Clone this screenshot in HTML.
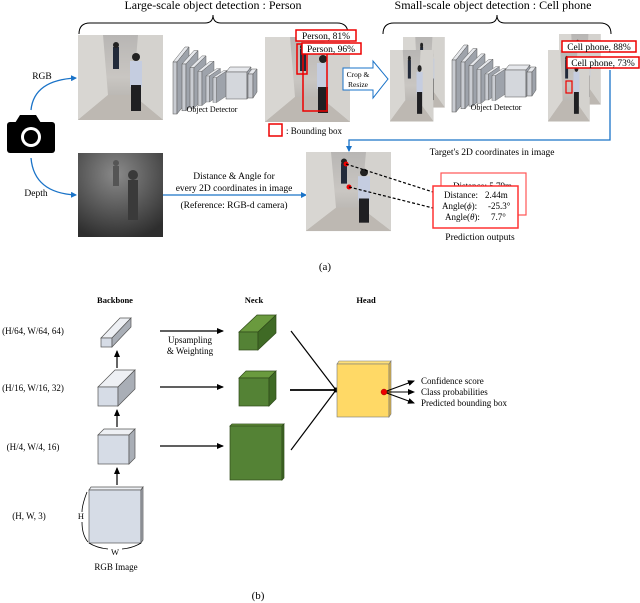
<!DOCTYPE html>
<html><head><meta charset="utf-8"><style>
html,body{margin:0;padding:0;background:#fff;}
svg{display:block;font-family:"Liberation Serif",serif;}
</style></head><body>
<svg width="640" height="603" viewBox="0 0 640 603" xmlns="http://www.w3.org/2000/svg">
<defs>
<marker id="ab" markerWidth="6" markerHeight="6" refX="5" refY="3" orient="auto" markerUnits="userSpaceOnUse"><path d="M0,0 L6,3 L0,6z" fill="#1a73c8"/></marker>
<marker id="ak" markerWidth="7" markerHeight="6" refX="6" refY="3" orient="auto" markerUnits="userSpaceOnUse"><path d="M0,0 L7,3 L0,6z" fill="#000"/></marker>
<linearGradient id="ph" x1="0" y1="0" x2="0" y2="1"><stop offset="0" stop-color="#b8b6b4"/><stop offset="0.5" stop-color="#c9c6c2"/><stop offset="1" stop-color="#a9a6a2"/></linearGradient>
<radialGradient id="dp" cx="0.45" cy="0.25" r="0.8"><stop offset="0" stop-color="#8a8a8a"/><stop offset="1" stop-color="#2e2e2e"/></radialGradient>
<g id="photo">
<rect x="0" y="0" width="85" height="85" fill="url(#ph)"/>
<polygon points="0,0 25,0 30,60 0,85" fill="#d8d6d2"/>
<polygon points="85,0 60,0 55,60 85,85" fill="#d4d2ce"/>
<polygon points="30,60 55,60 85,85 0,85" fill="#bdb8b2"/>
<rect x="52" y="26" width="12" height="26" fill="#c5cde0"/>
<circle cx="58" cy="22" r="4" fill="#222"/>
<rect x="53" y="50" width="10" height="26" fill="#1f1f22"/>
<rect x="35" y="12" width="6" height="22" fill="#222a3a"/>
<circle cx="38" cy="10" r="3" fill="#222"/>
</g>
<g id="det">
<polygon points="0,20 12,5 16,5 4,20" fill="#e6e8ec" stroke="#555" stroke-width=".5"/>
<rect x="0" y="20" width="4" height="52" fill="#c9ccd2" stroke="#555" stroke-width=".5"/>
<polygon points="4,20 16,5 16,57 4,72" fill="#9ea3ab" stroke="#555" stroke-width=".5"/>
</g>
</defs>

<text x="213" y="9" font-size="12" text-anchor="middle">Large-scale object detection : Person</text>
<text x="493" y="9" font-size="12" text-anchor="middle">Small-scale object detection : Cell phone</text>
<path d="M79,34 Q79,23 90,23 L205,23 Q213,23 213,15 Q213,23 221,23 L337,23 Q348,23 348,34" fill="none" stroke="#000" stroke-width="1"/>
<path d="M383,34 Q383,23 394,23 L489,23 Q497,23 497,15 Q497,23 505,23 L600,23 Q611,23 611,34" fill="none" stroke="#000" stroke-width="1"/>

<g transform="translate(78,35)"><use href="#photo"/></g>

<g transform="translate(173,42)">
<use href="#det"/>
<use href="#det" transform="translate(9,4) scale(1,.9)"/>
<use href="#det" transform="translate(17,10) scale(1,.78)"/>
<use href="#det" transform="translate(25,16) scale(1,.66)"/>
<use href="#det" transform="translate(33,24) scale(.9,.5)"/>
<use href="#det" transform="translate(40,26) scale(.9,.48)"/>
<polygon points="53,30 57,25 78,25 74,30" fill="#e6e8ec" stroke="#555" stroke-width=".5"/>
<rect x="53" y="30" width="21" height="27" fill="#d4d7dc" stroke="#555" stroke-width=".5"/>
<polygon points="74,30 78,25 78,52 74,57" fill="#9ea3ab" stroke="#555" stroke-width=".5"/>
<polygon points="75,32 79,27 84,27 80,32" fill="#e6e8ec" stroke="#555" stroke-width=".5"/>
<rect x="75" y="32" width="5" height="24" fill="#c9ccd2" stroke="#555" stroke-width=".5"/>
<polygon points="80,32 84,27 84,50 80,56" fill="#9ea3ab" stroke="#555" stroke-width=".5"/>
<text x="39" y="70" font-size="8" text-anchor="middle">Object Detector</text>
</g>

<g transform="translate(265,37)"><use href="#photo"/></g>
<rect x="303" y="53" width="24" height="58" fill="none" stroke="#e00" stroke-width="1.5"/>
<rect x="297" y="44" width="10" height="30" fill="none" stroke="#e00" stroke-width="1.5"/>
<rect x="296" y="30" width="60" height="11" fill="#fff" stroke="#e00" stroke-width="1.5"/>
<text x="326" y="39" font-size="9.5" text-anchor="middle">Person, 81%</text>
<rect x="302" y="43" width="59" height="11" fill="#fff" stroke="#e00" stroke-width="1.5"/>
<text x="331" y="52" font-size="9.5" text-anchor="middle">Person, 96%</text>
<rect x="269" y="124" width="13" height="12" fill="none" stroke="#e00" stroke-width="1.5"/>
<text x="286" y="134" font-size="9">: Bounding box</text>

<polygon points="343,68 373,68 373,61 388,79 373,98 373,90 343,90" fill="#fff" stroke="#1a73c8" stroke-width="1"/>
<text x="358" y="77" font-size="7.5" text-anchor="middle">Crop &amp;</text>
<text x="358" y="87" font-size="7.5" text-anchor="middle">Resize</text>

<g transform="translate(403,37) scale(.49,.83)"><use href="#photo"/></g>
<g transform="translate(390,50) scale(.51,.84)"><use href="#photo"/></g>

<g transform="translate(452,40)">
<use href="#det"/>
<use href="#det" transform="translate(9,4) scale(1,.9)"/>
<use href="#det" transform="translate(17,10) scale(1,.78)"/>
<use href="#det" transform="translate(25,16) scale(1,.66)"/>
<use href="#det" transform="translate(33,24) scale(.9,.5)"/>
<use href="#det" transform="translate(40,26) scale(.9,.48)"/>
<polygon points="53,30 57,25 78,25 74,30" fill="#e6e8ec" stroke="#555" stroke-width=".5"/>
<rect x="53" y="30" width="21" height="27" fill="#d4d7dc" stroke="#555" stroke-width=".5"/>
<polygon points="74,30 78,25 78,52 74,57" fill="#9ea3ab" stroke="#555" stroke-width=".5"/>
<polygon points="75,32 79,27 84,27 80,32" fill="#e6e8ec" stroke="#555" stroke-width=".5"/>
<rect x="75" y="32" width="5" height="24" fill="#c9ccd2" stroke="#555" stroke-width=".5"/>
<polygon points="80,32 84,27 84,50 80,56" fill="#9ea3ab" stroke="#555" stroke-width=".5"/>
<text x="44" y="70" font-size="8" text-anchor="middle">Object Detector</text>
</g>

<g transform="translate(559,34) scale(.49,.83)"><use href="#photo"/></g>
<g transform="translate(548,50) scale(.49,.84)"><use href="#photo"/></g>
<rect x="566" y="81" width="6" height="12" fill="none" stroke="#e00" stroke-width="1.2"/>
<rect x="562" y="41" width="74" height="11" fill="#fff" stroke="#e00" stroke-width="1.5"/>
<text x="599" y="50" font-size="9.5" text-anchor="middle">Cell phone, 88%</text>
<rect x="567" y="57" width="72" height="11" fill="#fff" stroke="#e00" stroke-width="1.5"/>
<text x="603" y="66" font-size="9.5" text-anchor="middle">Cell phone, 73%</text>

<polyline points="610,70 610,140 349,140 349,151" fill="none" stroke="#1a73c8" stroke-width="1.3" marker-end="url(#ab)"/>
<text x="492" y="155" font-size="9.5" text-anchor="middle">Target's 2D coordinates in image</text>

<g>
<rect x="7" y="122" width="48" height="31" rx="3" fill="#000"/>
<polygon points="15,123 20,115 36,115 41,123" fill="#000"/>
<circle cx="31" cy="137" r="10" fill="#fff"/>
<circle cx="31" cy="137" r="7" fill="#000"/>
</g>
<text x="42" y="79" font-size="9.5" text-anchor="middle">RGB</text>
<path d="M31,110 Q34,80 76,78" fill="none" stroke="#1a73c8" stroke-width="1.3" marker-end="url(#ab)"/>
<text x="36" y="196" font-size="9.5" text-anchor="middle">Depth</text>
<path d="M31,158 Q34,193 76,195" fill="none" stroke="#1a73c8" stroke-width="1.3" marker-end="url(#ab)"/>

<rect x="78" y="153" width="85" height="84" fill="url(#dp)"/>
<circle cx="133" cy="175" r="5" fill="#3a3a3a"/>
<rect x="128" y="180" width="10" height="40" fill="#3a3a3a"/>
<circle cx="116" cy="163" r="3" fill="#555"/>
<rect x="113" y="166" width="6" height="20" fill="#555"/>

<text x="234" y="179" font-size="9.5" text-anchor="middle">Distance &amp; Angle for</text>
<text x="234" y="191" font-size="9.5" text-anchor="middle">every 2D coordinates in image</text>
<text x="234" y="208" font-size="9.5" text-anchor="middle">(Reference: RGB-d camera)</text>
<line x1="163" y1="195" x2="306" y2="195" stroke="#1a73c8" stroke-width="1.3" marker-end="url(#ab)"/>

<g transform="translate(306,152) scale(1,.93)"><use href="#photo"/></g>
<circle cx="346" cy="164" r="2.5" fill="#e00"/>
<circle cx="349" cy="187" r="2.5" fill="#e00"/>
<line x1="346" y1="164" x2="433" y2="192" stroke="#000" stroke-width="1.2" stroke-dasharray="3,2"/>
<line x1="349" y1="187" x2="433" y2="208" stroke="#000" stroke-width="1.2" stroke-dasharray="3,2"/>
<rect x="441" y="173" width="85" height="42" fill="#fff" stroke="#f55" stroke-width="1.2"/>
<text x="453" y="189" font-size="9">Distance:   5.79m</text>
<rect x="433" y="186" width="85" height="42" fill="#fff" stroke="#f33" stroke-width="1.5"/>
<text x="444" y="198" font-size="9">Distance:</text><text x="485" y="198" font-size="9">2.44m</text>
<text x="442" y="209" font-size="9">Angle(<tspan font-style="italic">ϕ</tspan>):</text><text x="488" y="209" font-size="9">-25.3°</text>
<text x="445" y="220" font-size="9">Angle(<tspan font-style="italic">θ</tspan>):</text><text x="491" y="220" font-size="9">7.7°</text>
<text x="480" y="240" font-size="9.5" text-anchor="middle">Prediction outputs</text>

<text x="325" y="270" font-size="11" text-anchor="middle">(a)</text>

<text x="115" y="303" font-size="8.5" font-weight="bold" text-anchor="middle">Backbone</text>
<text x="254" y="303" font-size="8.5" font-weight="bold" text-anchor="middle">Neck</text>
<text x="366" y="303" font-size="8.5" font-weight="bold" text-anchor="middle">Head</text>

<text x="33" y="334" font-size="9" text-anchor="middle">(H/64, W/64, 64)</text>
<text x="33" y="391" font-size="9" text-anchor="middle">(H/16, W/16, 32)</text>
<text x="33" y="450" font-size="9" text-anchor="middle">(H/4, W/4, 16)</text>
<text x="29" y="519" font-size="9" text-anchor="middle">(H, W, 3)</text>

<g stroke="#555" stroke-width=".7">
<polygon points="101,338 120,318 131,318 112,338" fill="#eef0f4"/>
<rect x="101" y="338" width="11" height="9" fill="#d6dce6"/>
<polygon points="112,338 131,318 131,327 112,347" fill="#a9aeb6"/>
<polygon points="98,387 115,370 135,370 118,387" fill="#eef0f4"/>
<rect x="98" y="387" width="20" height="19" fill="#d6dce6"/>
<polygon points="118,387 135,370 135,389 118,406" fill="#a9aeb6"/>
<polygon points="98,435 104,429 135,429 129,435" fill="#eef0f4"/>
<rect x="98" y="435" width="31" height="29" fill="#d6dce6"/>
<polygon points="129,435 135,429 135,458 129,464" fill="#a9aeb6"/>
<polygon points="89,490 91,487 143,487 141,490" fill="#eef0f4"/>
<rect x="89" y="490" width="52" height="53" fill="#d6dce6"/>
<polygon points="141,490 143,487 143,540 141,543" fill="#a9aeb6"/>
</g>
<path d="M87,492 Q82,505 82,512 M82,522 Q82,535 88,542" fill="none" stroke="#000" stroke-width=".8"/>
<text x="81" y="519" font-size="8.5" text-anchor="middle">H</text>
<path d="M89,543 Q97,548 108,549 M122,549 Q133,548 141,543" fill="none" stroke="#000" stroke-width=".8"/>
<text x="115" y="555" font-size="8.5" text-anchor="middle">W</text>
<text x="116" y="570" font-size="9" text-anchor="middle">RGB Image</text>

<g stroke="#000" stroke-width="1.2" marker-end="url(#ak)">
<line x1="117" y1="485" x2="117" y2="468"/>
<line x1="117" y1="427" x2="117" y2="410"/>
<line x1="117" y1="368" x2="117" y2="351"/>
<line x1="160" y1="331" x2="223" y2="331"/>
<line x1="160" y1="387" x2="223" y2="387"/>
<line x1="160" y1="446" x2="223" y2="446"/>
</g>
<text x="190" y="343" font-size="9" text-anchor="middle">Upsampling</text>
<text x="190" y="354" font-size="9" text-anchor="middle">&amp; Weighting</text>

<g stroke="#2f4a1a" stroke-width=".7">
<polygon points="239,332 257,315 276,315 258,332" fill="#6a9a3e"/>
<rect x="239" y="332" width="19" height="18" fill="#548235"/>
<polygon points="258,332 276,315 276,333 258,350" fill="#3f6a25"/>
<polygon points="239,378 246,371 276,371 269,378" fill="#6a9a3e"/>
<rect x="239" y="378" width="30" height="28" fill="#548235"/>
<polygon points="269,378 276,371 276,399 269,406" fill="#3f6a25"/>
<polygon points="230,426 232,424 284,424 282,426" fill="#6a9a3e"/>
<rect x="230" y="426" width="52" height="54" fill="#548235"/>
<polygon points="282,426 284,424 284,478 282,480" fill="#3f6a25"/>
</g>
<g stroke="#000" stroke-width="1.2">
<line x1="291" y1="331" x2="336" y2="390"/>
<line x1="290" y1="390" x2="336" y2="390" stroke-width="1.8"/>
<line x1="291" y1="450" x2="336" y2="390"/>
</g>
<circle cx="336" cy="390" r="2.5" fill="#000"/>

<polygon points="337,364 339,361 391,361 389,364" fill="#ffe07a" stroke="#777" stroke-width=".6"/>
<rect x="337" y="364" width="52" height="53" fill="#ffd966" stroke="#777" stroke-width=".6"/>
<polygon points="389,364 391,361 391,414 389,417" fill="#d9b34a" stroke="#777" stroke-width=".6"/>
<g stroke="#000" stroke-width="1.1" marker-end="url(#ak)">
<line x1="384" y1="392" x2="414" y2="381"/>
<line x1="384" y1="392" x2="414" y2="392"/>
<line x1="384" y1="392" x2="414" y2="403"/>
</g>
<circle cx="384" cy="392" r="3" fill="#e00" stroke="#800" stroke-width=".4"/>
<text x="421" y="384" font-size="9">Confidence score</text>
<text x="421" y="395" font-size="9">Class probabilities</text>
<text x="421" y="406" font-size="9">Predicted bounding box</text>

<text x="258" y="599" font-size="11" text-anchor="middle">(b)</text>
</svg>
</body></html>
